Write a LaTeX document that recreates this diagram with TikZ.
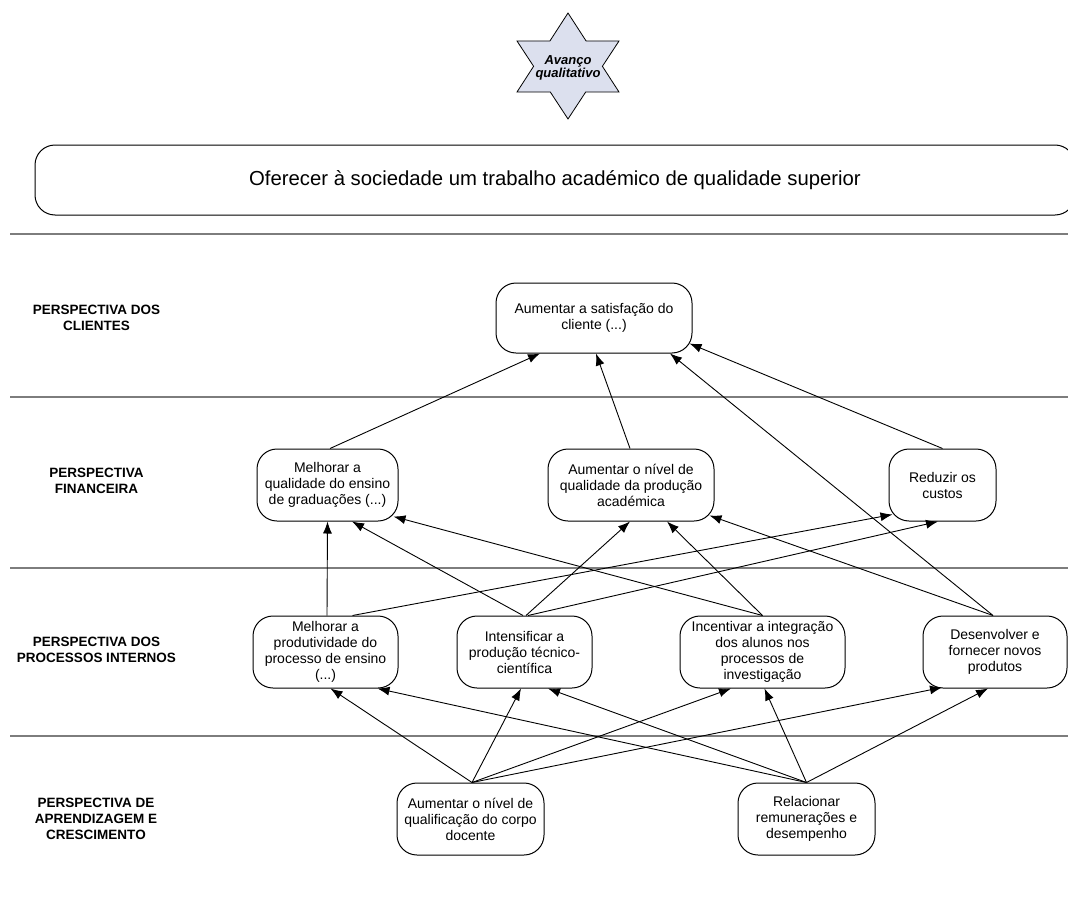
\documentclass[tikz,border=0pt]{standalone}
\usepackage{fontspec}
\setmainfont{Liberation Sans}
\usetikzlibrary{arrows.meta,calc}
\definecolor{bandgray}{RGB}{125,125,125}
\definecolor{starfill}{RGB}{220,224,238}

\begin{document}
\begin{tikzpicture}[x=1pt,y=-1pt,
  goal/.style={draw=black, line width=1pt, rounded corners=20pt, fill=white,
    align=center, inner sep=0pt, minimum height=72pt,
    font=\fontsize{14}{16}\selectfont},
  persp/.style={align=center, inner sep=0pt, font=\bfseries\fontsize{13.5}{16}\selectfont},
  band/.style={draw=bandgray, line width=2pt},
  link/.style={draw=black, line width=0.9pt, -{Latex[length=12pt,width=9pt]}},
]
\useasboundingbox (0,0) rectangle (1068,899);
\clip (0,0) rectangle (1068,899);

% six-pointed star with its caption
\draw[fill=starfill, line width=0.8pt]
  (568,13) -- (586.1,41) -- (619,41) -- (602.4,66.3) -- (619,92) -- (585.7,92)
  -- (568,119) -- (550.3,92) -- (517,92) -- (533.6,66.3) -- (517,41) -- (549.9,41) -- cycle;
\node[align=center, inner sep=0pt, font=\bfseries\itshape\fontsize{13}{12}\selectfont]
  (star) at (568,68) {Avanço\\qualitativo};

% mission banner
\node[draw=black, line width=1pt, rounded corners=20pt, minimum width=1040pt,
  minimum height=70pt, inner sep=0pt, font=\fontsize{20.3}{24}\selectfont]
  (mission) at (555,180) {Oferecer à sociedade um trabalho académico de qualidade superior};

% separators between perspectives
\draw[band] (10,234) -- (1068,234);
\draw[band] (10,397) -- (1068,397);
\draw[band] (10,568) -- (1068,568);
\draw[band] (10,736) -- (1068,736);

% perspective labels
\node[persp] (lcli) at (96.5,317.5) {PERSPECTIVA DOS\\CLIENTES};
\node[persp] (lfin) at (96.5,481) {PERSPECTIVA\\FINANCEIRA};
\node[persp] (lproc) at (96.5,650) {PERSPECTIVA DOS\\PROCESSOS INTERNOS};
\node[persp] (lapr) at (96,819) {PERSPECTIVA DE\\APRENDIZAGEM E\\CRESCIMENTO};

% objectives
\node[goal, minimum width=196pt, minimum height=70pt] (cli) at (594,318)
  {Aumentar a satisfação do\\cliente (...)};

\node[goal, minimum width=141pt] (fq) at (327.5,485)
  {Melhorar a\\qualidade do ensino\\de graduações (...)};
\node[goal, minimum width=166pt] (fn) at (631,485)
  {Aumentar o nível de\\qualidade da produção\\académica};
\node[goal, minimum width=107pt] (fr) at (942.5,485)
  {Reduzir os\\custos};

\node[goal, minimum width=145pt] (pm) at (325.5,652)
  {Melhorar a\\produtividade do\\processo de ensino\\(...)};
\node[goal, minimum width=135pt] (pi) at (524.5,652)
  {Intensificar a\\produção técnico-\\científica};
\node[goal, minimum width=165pt] (pn) at (762.5,652)
  {Incentivar a integração\\dos alunos nos\\processos de\\investigação};
\node[goal, minimum width=144pt] (pd) at (995,652)
  {Desenvolver e\\fornecer novos\\produtos};

\node[goal, minimum width=147pt] (aq) at (470.5,819)
  {Aumentar o nível de\\qualificação do corpo\\docente};
\node[goal, minimum width=137pt] (ar) at (806.5,819)
  {Relacionar\\remunerações e\\desempenho};

% financial -> clients
\draw[link] ($(fq.north)+(2.5,0)$) -- ($(cli.south)+(-54,0)$);
\draw[link] ($(fn.north)+(-1,0)$) -- ($(cli.south)+(2,0)$);
\draw[link] ($(pd.north)+(-2,0)$) -- ($(cli.south)+(76,0)$);
\draw[link] (fr.north) -- ($(cli.south east)+(-3,-10)$);

% internal processes -> financial
\draw[link] ($(pm.north)+(1.5,0)$) -- (fq.south);
\draw[link] ($(pm.north)+(27,0)$) -- ($(fr.south west)+(4,-7)$);
\draw[link] ($(pi.north)+(-1.5,0)$) -- ($(fq.south)+(24.5,0)$);
\draw[link] ($(pi.north)+(1.5,0)$) -- ($(fn.south)+(-1,0)$);
\draw[link] ($(pi.north)+(3.5,0)$) -- ($(fr.south)+(-4.5,0)$);
\draw[link] (pn.north) -- ($(fq.south east)+(-5,-5)$);
\draw[link] (pn.north) -- ($(fn.south)+(36,0)$);
\draw[link] ($(pd.north)+(-2,0)$) -- ($(fn.south east)+(-5,-6)$);

% learning and growth -> internal processes
\draw[link] ($(aq.north)+(1.5,0)$) -- ($(pm.south)+(5,0)$);
\draw[link] ($(aq.north)+(1.5,0)$) -- ($(pi.south)+(-3.5,0)$);
\draw[link] ($(aq.north)+(1.5,0)$) -- ($(pn.south)+(-31.5,0)$);
\draw[link] ($(aq.north)+(1.5,0)$) -- ($(pd.south)+(-53,-1)$);
\draw[link] (ar.north) -- ($(pm.south)+(52,0)$);
\draw[link] (ar.north) -- ($(pi.south)+(23.5,0)$);
\draw[link] (ar.north) -- ($(pn.south)+(2,0)$);
\draw[link] (ar.north) -- ($(pd.south)+(-7,0)$);
\end{tikzpicture}
\end{document}
